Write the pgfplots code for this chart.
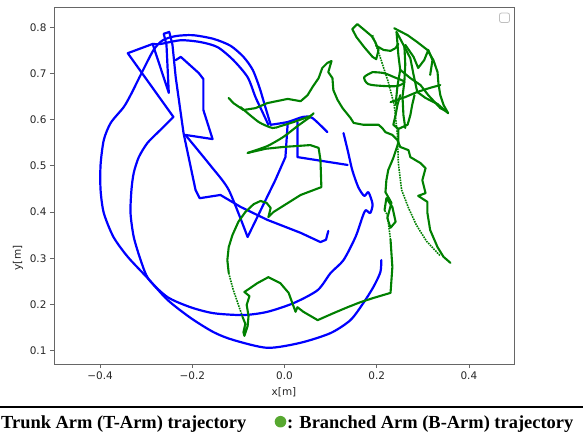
\documentclass[border=0pt]{standalone}
\usepackage{pgfplots}
\pgfplotsset{compat=1.18}
\usepackage{fontspec}
\setmainfont{Liberation Serif}
\newfontfamily\dejavu{DejaVu Sans}
\definecolor{mplblue}{RGB}{0,0,255}
\definecolor{mplgreen}{RGB}{0,128,0}
\definecolor{capgreen}{RGB}{87,168,48}
\tikzset{
  bl/.style={mplblue, line width=2.2bp, line join=round, line cap=round},
  gr/.style={mplgreen, line width=2.1bp, line join=round, line cap=round},
  grd/.style={mplgreen, line width=1.6bp, densely dotted},
}
\begin{document}
\begin{tikzpicture}
\useasboundingbox (0,0) rectangle (583bp,444bp);
\begin{axis}[
  at={(54bp,80bp)}, anchor=south west, scale only axis,
  width=461bp, height=357bp,
  xmin=-0.5, xmax=0.5, ymin=0.071, ymax=0.844,
  xtick={-0.4,-0.2,0,0.2,0.4},
  xticklabels={{−0.4},{−0.2},{0.0},{0.2},{0.4}},
  ytick={0.1,0.2,0.3,0.4,0.5,0.6,0.7,0.8},
  yticklabels={{0.1},{0.2},{0.3},{0.4},{0.5},{0.6},{0.7},{0.8}},
  tick align=outside, tick pos=left, major tick length=4bp,
  ticklabel style={font=\dejavu\fontsize{10.5}{12}\selectfont, text=black!85},
  axis line style={black!60, line width=1bp},
  every tick/.style={black!60, line width=0.8bp},
]
% ---- Trunk arm (blue) ----
\addplot[bl, smooth, tension=0.45] coordinates {(0.210,0.296)(0.208,0.270)(0.193,0.238)(0.171,0.203)(0.143,0.166)(0.100,0.138)(0.035,0.117)(-0.037,0.106)(-0.111,0.123)(-0.154,0.140)(-0.204,0.171)(-0.254,0.210)(-0.295,0.255)(-0.340,0.303)(-0.371,0.346)(-0.392,0.398)(-0.399,0.448)(-0.399,0.502)(-0.392,0.556)(-0.377,0.593)(-0.349,0.627)(-0.334,0.653)(-0.312,0.697)(-0.284,0.751)(-0.264,0.772)(-0.236,0.781)(-0.199,0.783)(-0.154,0.775)(-0.117,0.760)(-0.089,0.736)(-0.069,0.708)(-0.054,0.669)(-0.043,0.632)(-0.030,0.589)};
\addplot[bl, smooth, tension=0.45] coordinates {(-0.030,0.589)(0.007,0.595)(0.040,0.606)(0.060,0.604)(0.093,0.573)};
\addplot[bl, smooth, tension=0.45] coordinates {(-0.286,0.764)(-0.269,0.764)(-0.225,0.772)(-0.182,0.768)(-0.145,0.757)(-0.111,0.729)(-0.080,0.692)(-0.063,0.649)(-0.048,0.617)(-0.035,0.589)};
\addplot[bl, smooth, tension=0.45] coordinates {(0.128,0.571)(0.137,0.534)(0.147,0.491)(0.160,0.454)(0.173,0.435)(0.182,0.443)(0.191,0.417)(0.186,0.398)(0.176,0.404)(0.169,0.389)(0.154,0.346)(0.128,0.296)(0.100,0.268)(0.072,0.231)(0.020,0.203)(-0.037,0.184)(-0.089,0.177)(-0.154,0.181)(-0.204,0.194)(-0.254,0.216)(-0.295,0.255)(-0.312,0.296)(-0.327,0.346)(-0.334,0.398)(-0.332,0.448)(-0.327,0.485)(-0.316,0.519)(-0.297,0.550)(-0.269,0.578)(-0.241,0.606)};
\addplot[bl] coordinates {(-0.241,0.606)(-0.340,0.744)(-0.286,0.764)(-0.251,0.658)(-0.256,0.762)(-0.262,0.786)(-0.250,0.790)(-0.243,0.762)(-0.236,0.692)(-0.219,0.571)(-0.193,0.448)(-0.184,0.430)(-0.139,0.437)(-0.095,0.411)(-0.037,0.383)(0.035,0.355)(0.078,0.335)(0.090,0.340)(0.095,0.359)};
\addplot[bl] coordinates {(-0.236,0.729)(-0.225,0.736)(-0.186,0.701)(-0.176,0.688)(-0.176,0.621)(-0.156,0.558)(-0.215,0.567)};
\addplot[bl, smooth, tension=0.4] coordinates {(-0.215,0.567)(-0.160,0.500)(-0.121,0.448)(-0.080,0.346)};
\addplot[bl] coordinates {(-0.080,0.346)(-0.020,0.469)(0.002,0.519)(0.007,0.593)};
\addplot[bl] coordinates {(0.028,0.595)(0.028,0.519)(0.137,0.502)};
% ---- Branched arm (green) ----
\addplot[gr] coordinates {(-0.121,0.647)(-0.111,0.636)(-0.089,0.621)(-0.063,0.625)(-0.037,0.636)(0.007,0.645)(0.035,0.640)(0.050,0.653)(0.061,0.671)(0.074,0.690)(0.082,0.712)(0.093,0.723)(0.102,0.727)(0.095,0.703)(0.104,0.690)(0.106,0.664)(0.115,0.643)(0.126,0.625)(0.143,0.604)(0.150,0.593)(0.171,0.589)(0.204,0.589)(0.212,0.582)(0.219,0.573)(0.234,0.567)(0.245,0.556)(0.251,0.541)(0.269,0.534)(0.273,0.519)(0.295,0.506)(0.306,0.495)(0.299,0.469)(0.306,0.441)(0.290,0.435)(0.310,0.422)(0.310,0.398)(0.316,0.361)(0.332,0.324)(0.345,0.303)(0.360,0.290)};
\addplot[gr, smooth, tension=0.4] coordinates {(-0.095,0.627)(-0.056,0.595)(-0.026,0.582)(-0.009,0.586)(0.020,0.595)(0.056,0.608)(0.063,0.614)};
\addplot[gr, smooth, tension=0.4] coordinates {(-0.080,0.528)(-0.037,0.543)(-0.002,0.563)(0.028,0.586)(0.056,0.606)};
\addplot[gr] coordinates {(-0.080,0.528)(-0.041,0.537)(-0.002,0.541)(0.056,0.545)(0.074,0.539)(0.078,0.513)(0.080,0.454)(0.035,0.437)(-0.024,0.400)(-0.035,0.389)(-0.030,0.409)(-0.039,0.420)(-0.052,0.424)(-0.067,0.417)(-0.085,0.400)(-0.100,0.379)(-0.113,0.350)(-0.121,0.324)(-0.124,0.296)(-0.121,0.268)};
\addplot[grd] coordinates {(-0.121,0.268)(-0.111,0.231)(-0.100,0.199)(-0.091,0.173)};
\addplot[gr] coordinates {(-0.091,0.173)(-0.085,0.158)(-0.089,0.140)(-0.087,0.132)(-0.080,0.153)(-0.078,0.175)(-0.082,0.199)(-0.076,0.218)(-0.087,0.227)(-0.078,0.233)(-0.059,0.246)(-0.035,0.259)(-0.009,0.246)(0.009,0.225)(0.017,0.203)(0.024,0.184)(0.028,0.194)(0.041,0.184)(0.072,0.166)(0.106,0.181)(0.137,0.194)(0.165,0.205)(0.193,0.214)(0.230,0.225)(0.234,0.281)(0.230,0.340)};
\addplot[grd] coordinates {(0.230,0.340)(0.223,0.394)(0.217,0.404)};
\addplot[gr] coordinates {(0.217,0.404)(0.221,0.430)(0.234,0.411)(0.241,0.379)(0.230,0.366)(0.223,0.387)(0.232,0.420)(0.219,0.443)(0.221,0.469)(0.225,0.491)(0.236,0.517)(0.247,0.550)(0.247,0.580)(0.236,0.589)(0.241,0.610)(0.245,0.632)(0.251,0.653)};
\addplot[gr] coordinates {(0.247,0.580)(0.267,0.589)(0.273,0.610)(0.277,0.632)(0.282,0.653)};
\addplot[grd] coordinates {(0.191,0.783)(0.208,0.734)(0.225,0.682)(0.238,0.632)(0.245,0.567)(0.247,0.506)(0.254,0.448)(0.269,0.409)(0.286,0.372)(0.308,0.337)(0.338,0.305)};
\addplot[gr] coordinates {(0.158,0.807)(0.147,0.796)(0.156,0.779)(0.173,0.757)(0.191,0.736)(0.199,0.731)(0.204,0.751)(0.197,0.768)(0.189,0.781)(0.176,0.792)(0.158,0.807)};
\addplot[gr] coordinates {(0.199,0.760)(0.215,0.751)(0.230,0.749)(0.241,0.755)(0.247,0.764)};
\addplot[gr] coordinates {(0.238,0.798)(0.267,0.783)(0.288,0.768)(0.310,0.751)(0.323,0.729)(0.332,0.703)(0.334,0.677)(0.338,0.653)(0.345,0.632)(0.355,0.614)};
\addplot[gr] coordinates {(0.243,0.790)(0.258,0.762)(0.273,0.733)(0.280,0.697)(0.288,0.660)(0.306,0.647)(0.332,0.634)(0.355,0.614)};
\addplot[gr, smooth, tension=0.5] coordinates {(0.191,0.703)(0.173,0.692)(0.182,0.677)(0.215,0.673)(0.245,0.673)(0.260,0.682)(0.238,0.692)(0.215,0.701)(0.191,0.703)};
\addplot[gr] coordinates {(0.230,0.638)(0.262,0.649)(0.288,0.660)(0.316,0.669)(0.338,0.675)};
\addplot[gr] coordinates {(0.251,0.708)(0.273,0.690)(0.295,0.675)(0.312,0.653)(0.338,0.625)(0.353,0.617)};
\addplot[gr] coordinates {(0.262,0.762)(0.280,0.736)(0.290,0.712)(0.303,0.729)(0.312,0.751)(0.321,0.729)(0.316,0.697)};
\addplot[gr] coordinates {(0.243,0.790)(0.247,0.740)(0.251,0.708)(0.245,0.673)(0.241,0.632)};
\addplot[gr] coordinates {(0.260,0.760)(0.262,0.720)(0.260,0.682)(0.256,0.650)(0.258,0.610)(0.262,0.582)};
\end{axis}
% empty legend box
\draw[black!25, line width=0.8bp, rounded corners=2bp] (499.5bp,421.5bp) rectangle (509.5bp,431bp);
% axis labels
\node[font=\dejavu\fontsize{10.5}{12}\selectfont, text=black!85] at (284bp,52bp) {x[m]};
\node[font=\dejavu\fontsize{10.5}{12}\selectfont, text=black!85, rotate=90] at (18bp,186bp) {y[m]};
% caption
\draw[line width=2.2bp] (0,36.7bp) -- (583bp,36.7bp);
\node[anchor=base west, inner sep=0, font=\bfseries\fontsize{18.5}{22}\selectfont] at (1bp,16bp) {Trunk Arm (T-Arm) trajectory};
\fill[capgreen] (280.5bp,22.3bp) circle (5.8bp);
\node[anchor=base west, inner sep=0, font=\bfseries\fontsize{18.5}{22}\selectfont] at (287bp,16bp) {: Branched Arm (B-Arm) trajectory};
\end{tikzpicture}
\end{document}
